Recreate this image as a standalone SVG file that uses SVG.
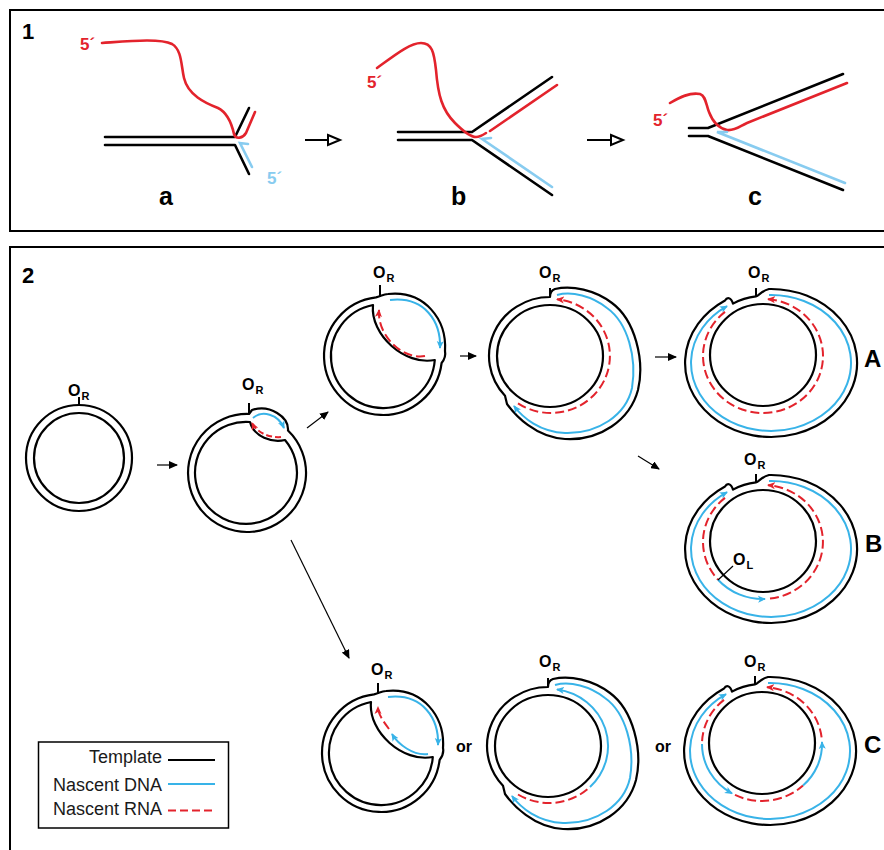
<svg xmlns="http://www.w3.org/2000/svg" width="884" height="850" viewBox="0 0 884 850">
  <style>
    .frame { fill: none; stroke: #000; stroke-width: 2; }
    .tpl { fill: none; stroke: #000; stroke-width: 2.2; stroke-linejoin: round; }
    .tpl1 { fill: none; stroke: #000; stroke-width: 2.6; stroke-linecap: round; stroke-linejoin: round; }
    .rna1 { fill: none; stroke: #e3232c; stroke-width: 2.6; stroke-linecap: round; stroke-linejoin: round; }
    .dna1 { fill: none; stroke: #88ccf0; stroke-width: 2.6; stroke-linecap: round; }
    .dna { fill: none; stroke: #38b3e8; stroke-width: 2; marker-end: url(#hb); }
    .rna { fill: none; stroke: #e3232c; stroke-width: 2; stroke-dasharray: 9 4; }
    .rnaa { fill: none; stroke: #e3232c; stroke-width: 2; stroke-dasharray: 9 4; marker-end: url(#hr); }
    .tick { stroke: #000; stroke-width: 2; }
    .conn { fill: none; stroke: #000; stroke-width: 1.2; marker-end: url(#ah); }
    .open { fill: none; stroke: #000; stroke-width: 2.2; }
    .head { fill: #fff; stroke: #000; stroke-width: 2; stroke-linejoin: miter; }
    text { font-family: "Liberation Sans", Arial, sans-serif; font-weight: bold; fill: #000; }
    .num { font-size: 22px; }
    .let { font-size: 25px; }
    .five { font-size: 17px; fill: #e3232c; }
    .fiveb { font-size: 17px; fill: #88ccf0; }
    .o { font-size: 16px; }
    .sub { font-size: 11px; }
    .big { font-size: 24px; }
    .or { font-size: 16px; }
    .leg { font-size: 18px; font-weight: normal; fill: #1a1a1a; }
  </style>
  <defs>
    <marker id="ah" viewBox="0 0 9 8" refX="8" refY="4" markerWidth="9" markerHeight="8" markerUnits="userSpaceOnUse" orient="auto">
      <path d="M0,0 L9,4 L0,8 Z" fill="#000"/>
    </marker>
    <marker id="hb" viewBox="0 0 8 8" refX="7" refY="4" markerWidth="8" markerHeight="8" markerUnits="userSpaceOnUse" orient="auto">
      <path d="M0,0.5 L8,4 L0,7.5 L2,4 Z" fill="#38b3e8"/>
    </marker>
    <marker id="hr" viewBox="0 0 8 8" refX="7" refY="4" markerWidth="8" markerHeight="8" markerUnits="userSpaceOnUse" orient="auto">
      <path d="M0,0.5 L8,4 L0,7.5 L2,4 Z" fill="#e3232c"/>
    </marker>
  </defs>

  <!-- panel frames -->
  <rect class="frame" x="10" y="10" width="890" height="221"/>
  <rect class="frame" x="10" y="247" width="890" height="640"/>
  <text class="num" x="22" y="39">1</text>
  <text class="num" x="22" y="283">2</text>

  <!-- ===== Panel 1: replication fork ===== -->
  <g id="fork-a">
    <path class="tpl1" d="M105,137 H235 L249,108 M105,145 H235 L249,174"/>
    <path class="rna1" d="M102,43 C130,41 160,38 172,44 C182,50 181,65 184,78 C188,95 205,103 218,108 C228,113 232,125 234,134 C236,140 243,138 246,133 L255,112"/>
    <path class="dna1" d="M252,167 L240,143 L248,144"/>
    <text class="five" x="80" y="50">5´</text>
    <text class="fiveb" x="267" y="184">5´</text>
    <text class="let" x="159" y="205">a</text>
  </g>
  <g id="fork-b">
    <path class="tpl1" d="M398,132 H472 L552,77 M398,140 H472 L552,195"/>
    <path class="rna1" d="M377,68 C395,55 410,43 421,43 C432,43 434,52 436,70 C438,95 442,110 455,123 C463,131 470,137 476,137 C480,137 483,135 486,133"/>
    <path class="rna1" d="M490,131 L557,85"/>
    <path class="dna1" d="M552,187 L482,139 L491,138"/>
    <text class="five" x="367" y="88">5´</text>
    <text class="let" x="451" y="205">b</text>
  </g>
  <g id="fork-c">
    <path class="tpl1" d="M689,128 H708 L843,74 M689,136 H708 L843,190"/>
    <path class="rna1" d="M670,103 C680,97 690,92 700,94 C706,96 706,105 709,112 C712,120 718,128 727,130 C735,131 740,126 747,123 L847,83"/>
    <path class="dna1" d="M845,183 L717,132 L727,132"/>
    <text class="five" x="653" y="126">5´</text>
    <text class="let" x="748" y="205">c</text>
  </g>
  <g id="p1-arrows">
    <path class="open" d="M305,140 H328 M587,140 H611"/>
    <path class="head" d="M328,135 L340,140 L328,145 Z"/>
    <path class="head" d="M611,135 L623,140 L611,145 Z"/>
  </g>

  <!-- ===== Panel 2: mtDNA replication intermediates ===== -->
  <g id="circle-1">
    <circle class="tpl" cx="79" cy="458" r="53"/>
    <circle class="tpl" cx="79" cy="458" r="45"/>
    <line class="tick" x1="79" y1="397" x2="79" y2="405"/>
    <text class="o" x="68" y="396">O<tspan class="sub" dx="1" dy="4">R</tspan></text>
  </g>

  <g id="circle-2">
    <path class="tpl" d="M249,414 A59,59 0 1 0 288,430.5 C289,417 270,404 252,410 L249,414 Z"/>
    <path class="tpl" d="M250,422 A51,51 0 1 0 285,440 C272,443 254,437 250,422 Z"/>
    <line class="tick" x1="249" y1="403" x2="249" y2="413"/>
    <path class="dna" d="M253,418 C262,410 278,414 284,428"/>
    <path class="rnaa" style="stroke-dasharray:6 3" d="M281,437 C270,438 257,433 252,423"/>
    <text class="o" x="242" y="390">O<tspan class="sub" dx="1" dy="4">R</tspan></text>
  </g>

  <g id="stage-3">
    <path class="tpl" d="M376,297.4 A59,59 0 1 0 441.6,363 C444,360 446,356 445,351 C447,320 425,290 388,294 C384,294 381,296 376,297.4 Z"/>
    <path class="tpl" d="M373,305 A52,52 0 1 0 434.8,360 C405,366 370,335 373,305 Z"/>
    <line class="tick" x1="380" y1="285" x2="380" y2="297"/>
    <path class="dna" d="M390,300 C425,296 441,322 440,348"/>
    <path class="rnaa" d="M425,356 C402,360 377,335 379,310"/>
    <text class="o" x="373" y="278">O<tspan class="sub" dx="1" dy="4">R</tspan></text>
  </g>

  <g id="stage-4">
    <path class="tpl" d="M550,297 A61,59 0 0 0 505,395.8 L507,404 C515,415 535,437 565,439 C600,441 630,420 638,390 C645,360 635,320 612,303 C595,290 572,285 555,289 C552,290 550,292 550,297 Z"/>
    <ellipse class="tpl" cx="550" cy="356" rx="53" ry="51"/>
    <line class="tick" x1="550" y1="288" x2="550" y2="297"/>
    <path class="dna" d="M557,295 C572,291 592,296 607,308 C628,323 637,358 632,388 C626,415 598,434 565,433 C540,432 523,418 514,406"/>
    <path class="rnaa" d="M518,403.3 A59,57 0 1 0 557,299.3"/>
    <text class="o" x="539" y="278">O<tspan class="sub" dx="1" dy="4">R</tspan></text>
  </g>

  <g id="product-A">
    <path class="tpl" d="M733,303.6 A61,59 0 0 1 756,296.4 C759,296 761,291 769,289 A86,74 0 1 1 725,300.5 C727,297 731,297 733,303.6 Z"/>
    <ellipse class="tpl" cx="763" cy="355" rx="53" ry="51"/>
    <line class="tick" x1="756" y1="288" x2="756" y2="297"/>
    <path class="dna" d="M769,295 A80,68 0 1 1 727,306.2"/>
    <path class="rnaa" d="M725,311.9 A60,57 0 1 0 768,299.2"/>
    <text class="o" x="748" y="278">O<tspan class="sub" dx="1" dy="4">R</tspan></text>
  </g>

  <g id="product-B" transform="translate(0,186)">
    <path class="tpl" d="M733,303.6 A61,59 0 0 1 756,296.4 C759,296 761,291 769,289 A86,74 0 1 1 725,300.5 C727,297 731,297 733,303.6 Z"/>
    <ellipse class="tpl" cx="763" cy="355" rx="53" ry="51"/>
    <line class="tick" x1="756" y1="288" x2="756" y2="297"/>
    <path class="dna" d="M769,295 A80,68 0 1 1 727,306.2"/>
    <path class="rna" d="M725,311.9 A60,57 0 0 0 718,393.7"/>
    <path class="dna" d="M718,393.7 A60,57 0 0 0 765,413"/>
    <path class="rnaa" d="M770,412.6 A60,57 0 0 0 768,299.2"/>
    <line class="tick" style="stroke-width:1.2" x1="718" y1="394" x2="733" y2="380"/>
    <text class="o" x="744" y="279">O<tspan class="sub" dx="1" dy="4">R</tspan></text>
    <text class="o" x="733" y="379">O<tspan class="sub" dx="1" dy="4">L</tspan></text>
  </g>

  <g id="variant-C1" transform="translate(-2,397)">
    <path class="tpl" d="M376,297.4 A59,59 0 1 0 441.6,363 C444,360 446,356 445,351 C447,320 425,290 388,294 C384,294 381,296 376,297.4 Z"/>
    <path class="tpl" d="M373,305 A52,52 0 1 0 434.8,360 C405,366 370,335 373,305 Z"/>
    <line class="tick" x1="380" y1="286" x2="380" y2="297"/>
    <path class="dna" d="M390,300 C425,296 441,322 440,348"/>
    <path class="dna" d="M430,357 C415,359 400,347 394,337"/>
    <path class="rnaa" d="M391,332 C385,324 380,317 380,310"/>
    <text class="o" x="373" y="278">O<tspan class="sub" dx="1" dy="4">R</tspan></text>
  </g>

  <g id="variant-C2" transform="translate(-2,390)">
    <path class="tpl" d="M550,297 A61,59 0 0 0 505,395.8 L507,404 C515,415 535,437 565,439 C600,441 630,420 638,390 C645,360 635,320 612,303 C595,290 572,285 555,289 C552,290 550,292 550,297 Z"/>
    <ellipse class="tpl" cx="550" cy="356" rx="53" ry="51"/>
    <line class="tick" x1="550" y1="288" x2="550" y2="297"/>
    <path class="dna" d="M557,295 C572,291 592,296 607,308 C628,323 637,358 632,388 C626,415 598,434 565,433 C540,432 523,418 514,406"/>
    <path class="dna" d="M592,397 A59,57 0 0 0 559,299.5"/>
    <path class="rna" d="M520,404.5 A59,57 0 0 0 590,398.8"/>
    <text class="o" x="541" y="277">O<tspan class="sub" dx="1" dy="4">R</tspan></text>
  </g>

  <g id="variant-C3" transform="translate(-1,388)">
    <path class="tpl" d="M733,303.6 A61,59 0 0 1 756,296.4 C759,296 761,291 769,289 A86,74 0 1 1 725,300.5 C727,297 731,297 733,303.6 Z"/>
    <ellipse class="tpl" cx="763" cy="355" rx="53" ry="51"/>
    <line class="tick" x1="756" y1="288" x2="756" y2="297"/>
    <path class="dna" d="M769,295 A80,68 0 1 1 727,306.2"/>
    <path class="rna" d="M725,311.9 A60,57 0 0 0 703,356"/>
    <path class="dna" d="M703,356 A60,57 0 0 0 733,405.4"/>
    <path class="rna" d="M736,406.9 A60,57 0 0 0 804,397.6"/>
    <path class="dna" d="M804,397.6 A60,57 0 0 0 823,354"/>
    <path class="rnaa" d="M822.6,349.3 A60,57 0 0 0 768,299.2"/>
    <text class="o" x="745" y="279">O<tspan class="sub" dx="1" dy="4">R</tspan></text>
  </g>

  <g id="connectors">
    <path class="conn" d="M157,465 H177"/>
    <path class="conn" d="M307,428 L328,412"/>
    <path class="conn" d="M460,356 H476"/>
    <path class="conn" d="M655,357 H676"/>
    <path class="conn" d="M638,456 L659,469"/>
    <path class="conn" d="M291,540 L349,658"/>
  </g>

  <text class="big" x="864" y="367">A</text>
  <text class="big" x="865" y="552">B</text>
  <text class="big" x="864" y="753">C</text>
  <text class="or" x="456" y="752">or</text>
  <text class="or" x="655" y="752">or</text>

  <g id="legend">
    <rect x="38.5" y="742" width="190" height="86" fill="#fff" stroke="#000" stroke-width="1.5"/>
    <text class="leg" x="162" y="763" text-anchor="end">Template</text>
    <text class="leg" x="162" y="791" text-anchor="end">Nascent DNA</text>
    <text class="leg" x="162" y="815" text-anchor="end">Nascent RNA</text>
    <line x1="168" y1="760" x2="215" y2="760" stroke="#000" stroke-width="2"/>
    <line x1="168" y1="784" x2="215" y2="784" stroke="#38b3e8" stroke-width="2"/>
    <line x1="168" y1="810.5" x2="215" y2="810.5" stroke="#e3232c" stroke-width="2" stroke-dasharray="8 4"/>
  </g>
</svg>
